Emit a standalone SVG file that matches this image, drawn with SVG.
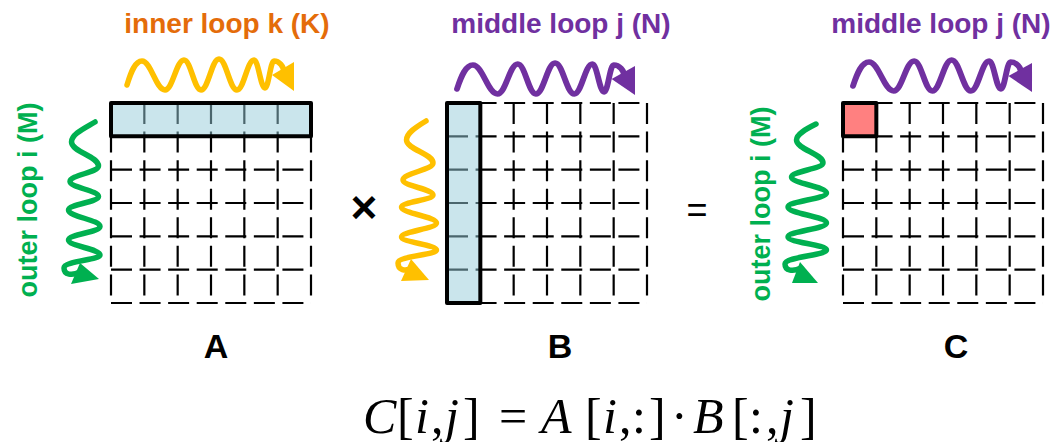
<svg xmlns="http://www.w3.org/2000/svg" width="1057" height="442" viewBox="0 0 1057 442">
<style>
.grid{stroke:#000;stroke-width:2.2;stroke-dasharray:21 7.57;fill:none}
.box{stroke:#000;stroke-width:4;stroke-linejoin:round}
.blue{fill:#95CBD9;fill-opacity:0.5}
.red{fill:#FF8080}
.loop{font-family:"Liberation Sans",Arial,sans-serif;font-weight:bold;font-size:28px}
.vloop{font-family:"Liberation Sans",Arial,sans-serif;font-weight:bold;font-size:27px;fill:#00B050}
.name{font-family:"Liberation Sans",Arial,sans-serif;font-weight:bold;font-size:34px;fill:#000}
.wave{fill:none;stroke-width:5.5;stroke-linecap:round;stroke-linejoin:round}
.f{font-family:"Liberation Serif","Times New Roman",serif;font-size:50px;fill:#000}
.it{font-style:italic}
</style>
<defs>
<g id="hwave">
<path class="wave" stroke="currentColor" d="M127,85 C131,72 135,61 142,61 C151,61 156,90 165,90 C172.6,90 176.4,60 184,60 C190.8,60 194.2,90 201,90 C208.2,90 211.8,59 219,59 C226.2,59 229.8,90 237,90 C243.8,90 247.2,60 254,60 C258.4,60 260.6,88 265,88 C268.6,88 270.4,61 274,61 C279,61 284,66 284,73"/>
<polygon points="294,62 272,75 294,91" fill="currentColor"/>
</g>
<g id="grid6">
<path class="grid" d="M0,0H200M0,33.333H200M0,66.667H200M0,100H200M0,133.333H200M0,166.667H200M0,200H200"/>
<path class="grid" d="M0,0V200M33.333,0V200M66.667,0V200M100,0V200M133.333,0V200M166.667,0V200M200,0V200"/>
</g>
</defs>

<g id="matrixA">
<use href="#grid6" transform="translate(111,103)"/>
<rect class="box blue" x="111" y="103" width="200" height="33.333"/>
<text class="name" x="216" y="358" text-anchor="middle">A</text>
</g>

<g id="matrixB">
<use href="#grid6" transform="translate(447,103)"/>
<rect class="box blue" x="447" y="103" width="33.333" height="200"/>
<text class="name" x="560" y="358" text-anchor="middle">B</text>
</g>

<g id="matrixC">
<use href="#grid6" transform="translate(843,103)"/>
<rect class="box red" x="843" y="103" width="33.333" height="33.333"/>
<text class="name" x="956" y="358" text-anchor="middle">C</text>
</g>

<g id="loops">
<text class="loop" x="227" y="33" text-anchor="middle" fill="#E46C0A">inner loop k (K)</text>
<use href="#hwave" color="#FFC000"/>
<text class="loop" x="561" y="33" text-anchor="middle" fill="#7030A0">middle loop j (N)</text>
<use href="#hwave" color="#7030A0" transform="translate(457,4) scale(1.066,1) translate(-127,0)"/>
<text class="loop" x="941" y="33" text-anchor="middle" fill="#7030A0">middle loop j (N)</text>
<use href="#hwave" color="#7030A0" transform="translate(853,1) scale(1.072,1) translate(-127,0)"/>

<text class="vloop" transform="translate(37,200) rotate(-90)" text-anchor="middle">outer loop i (M)</text>
<path class="wave" stroke="#00B050" d="M95,122 C85,128 71.5,134 71.5,142 C71.5,151.6 98.5,156.4 98.5,166 C98.5,172.2 70,175.3 70,181.5 C70,187.5 98.5,190.5 98.5,196.5 C98.5,201.9 68.5,204.6 68.5,210 C68.5,216.6 100,219.9 100,226.5 C100,231.9 68.5,234.6 68.5,240 C68.5,246 100,249 100,255 C100,260 64,261 64,268 C64,275 72,276 80,272"/>
<polygon points="80,263 99,279 71,284" fill="#00B050"/>

<path class="wave" stroke="#FFC000" d="M426,121 C416,127 406.5,133 406.5,140 C406.5,149.2 433,153.8 433,163 C433,169.8 403,173.2 403,180 C403,186 433,189 433,195 C433,199.8 401.5,202.2 401.5,207 C401.5,213.4 436.5,216.6 436.5,223 C436.5,228.6 401.5,231.4 401.5,237 C401.5,242.2 436.5,244.8 436.5,250 C436.5,255 398,256 398,263 C398,270 405,272 412,268"/>
<polygon points="411,259 429,280 401,281" fill="#FFC000"/>

<text class="vloop" transform="translate(770,204) rotate(-90)" text-anchor="middle">outer loop i (M)</text>
<path class="wave" stroke="#00B050" d="M816,124 C806,129 796.5,134 796.5,140 C796.5,149.2 823,153.8 823,163 C823,168.6 791.5,171.4 791.5,177 C791.5,183.4 826.5,186.6 826.5,193 C826.5,198.6 788,201.4 788,207 C788,213.4 826.5,216.6 826.5,223 C826.5,228.6 788,231.4 788,237 C788,242.2 826.5,244.8 826.5,250 C826.5,255 785,257 785,264 C785,271 793,272 801,268"/>
<polygon points="800,262 818,283 792,283" fill="#00B050"/>
</g>

<g id="operators">
<text x="364" y="223" text-anchor="middle" font-family="Liberation Sans,Arial,sans-serif" font-weight="bold" font-size="46">×</text>
<text x="697" y="222" text-anchor="middle" font-family="Liberation Sans,Arial,sans-serif" font-size="36">=</text>
</g>

<g id="formula">
<text class="f" y="433"><tspan x="363" class="it">C</tspan><tspan x="397">[</tspan><tspan x="415" class="it">i</tspan><tspan x="431">,</tspan><tspan x="445" class="it">j</tspan><tspan x="463">]</tspan><tspan x="499">=</tspan><tspan x="541" class="it">A</tspan><tspan x="585">[</tspan><tspan x="603" class="it">i</tspan><tspan x="619">,</tspan><tspan x="632">:</tspan><tspan x="649">]</tspan><tspan x="671">·</tspan><tspan x="693" class="it">B</tspan><tspan x="732">[</tspan><tspan x="749">:</tspan><tspan x="766">,</tspan><tspan x="780" class="it">j</tspan><tspan x="800">]</tspan></text>
</g>
</svg>
